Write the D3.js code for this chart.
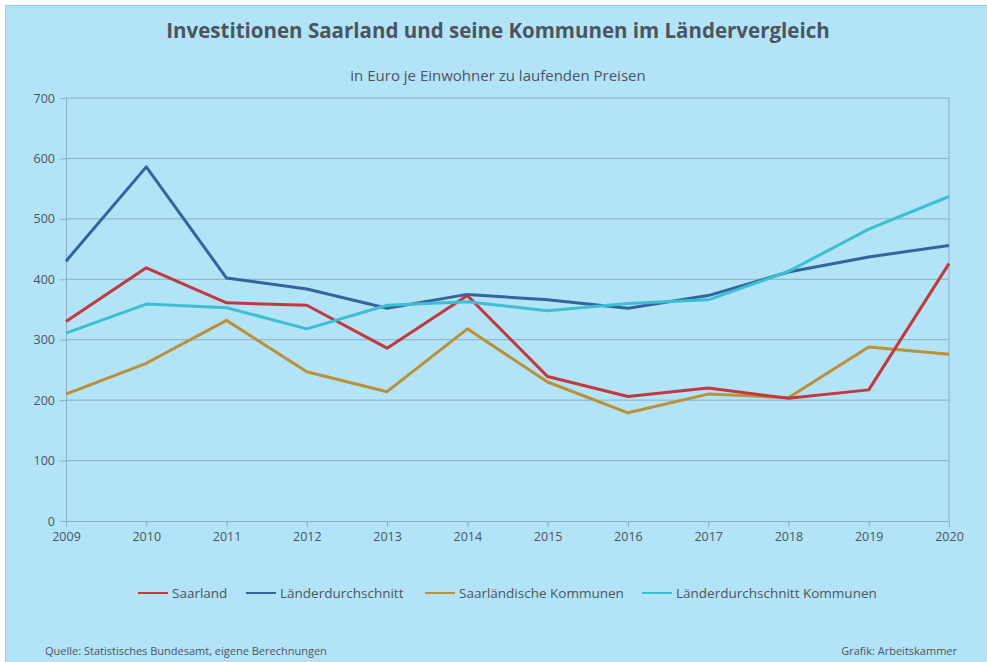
<!DOCTYPE html>
<html>
<head>
<meta charset="utf-8">
<title>Investitionen Saarland</title>
<script src="https://cdn.jsdelivr.net/npm/d3@7"></script>
<style>
  body { margin: 0; background: #fff; }
  text { font-family: "Open Sans", Lato, sans-serif; fill: #4a5560; }
</style>
</head>
<body>
<script>
var years = [2009, 2010, 2011, 2012, 2013, 2014, 2015, 2016, 2017, 2018, 2019, 2020];
var saarland = [330, 419, 361, 357, 286, 373, 239, 206, 220, 203, 217, 426];
var laender = [430, 586, 402, 384, 352, 375, 366, 352, 373, 412, 437, 456];
var saarKommunen = [210, 261, 332, 247, 214, 318, 230, 179, 210, 204, 288, 276];
var laenderKommunen = [311, 359, 353, 318, 357, 363, 348, 360, 366, 413, 483, 537];
var seriesNames = ["Saarland", "Länderdurchschnitt", "Saarländische Kommunen", "Länderdurchschnitt Kommunen"];
var seriesColors = ["#c0393f", "#33649e", "#b8913a", "#3cbfd3"];
var yTicks = [0, 100, 200, 300, 400, 500, 600, 700];

var width = 987, height = 662;
var svg = d3.select("body").append("svg")
    .attr("width", width)
    .attr("height", height);

svg.append("rect")
    .attr("x", 5.5).attr("y", 5.5)
    .attr("width", width).attr("height", height)
    .attr("fill", "#b3e3f7")
    .attr("stroke", "#8fd2f0");

svg.append("text")
    .attr("x", 498).attr("y", 38)
    .attr("text-anchor", "middle")
    .style("font-size", "20.5px")
    .style("font-weight", "bold")
    .text("Investitionen Saarland und seine Kommunen im Ländervergleich");

svg.append("text")
    .attr("x", 498).attr("y", 81)
    .attr("text-anchor", "middle")
    .style("font-size", "15px")
    .text("in Euro je Einwohner zu laufenden Preisen");

var x = d3.scaleLinear().domain([2009, 2020]).range([66, 949]);
var y = d3.scaleLinear().domain([0, 700]).range([521, 98]);

var grid = svg.append("g");
grid.selectAll("line")
    .data(yTicks.slice(1))
    .enter()
    .append("line")
    .attr("x1", 66).attr("x2", 949)
    .attr("y1", function(d) { return y(d); })
    .attr("y2", function(d) { return y(d); })
    .attr("stroke", "#8aaec2")
    .attr("stroke-width", 1);

svg.append("line")
    .attr("x1", 949).attr("x2", 949)
    .attr("y1", 98).attr("y2", 521)
    .attr("stroke", "#8aaec2");

var yAxis = svg.append("g")
    .attr("transform", "translate(66,0)")
    .call(d3.axisLeft(y).tickValues(yTicks).tickSize(6).tickPadding(5).tickSizeOuter(0));

var xAxis = svg.append("g")
    .attr("transform", "translate(0,521)")
    .call(d3.axisBottom(x).tickValues(years).tickFormat(d3.format("d")).tickSize(6).tickPadding(5).tickSizeOuter(0));

[yAxis, xAxis].forEach(function(a) {
    a.selectAll("path, line").attr("stroke", "#8aaec2");
    a.selectAll("text").style("font-size", "12.5px").attr("fill", "#4a5560").style("font-family", "'Open Sans', sans-serif");
});

var allSeries = [saarland, laender, saarKommunen, laenderKommunen];
var line = d3.line()
    .x(function(d, i) { return x(years[i]); })
    .y(function(d) { return y(d); });

var drawOrder = [2, 0, 1, 3];
drawOrder.forEach(function(k) {
    svg.append("path")
        .datum(allSeries[k])
        .attr("fill", "none")
        .attr("stroke", seriesColors[k])
        .attr("stroke-width", 3)
        .attr("stroke-linejoin", "round")
        .attr("d", line);
});

var legendX = [138, 246, 425, 642];
var legend = svg.append("g");
seriesNames.forEach(function(name, i) {
    legend.append("line")
        .attr("x1", legendX[i]).attr("x2", legendX[i] + 30)
        .attr("y1", 593).attr("y2", 593)
        .attr("stroke", seriesColors[i])
        .attr("stroke-width", 2);
    legend.append("text")
        .attr("x", legendX[i] + 34).attr("y", 598)
        .style("font-size", "13.5px")
        .text(name);
});

svg.append("text")
    .attr("x", 45).attr("y", 655)
    .style("font-size", "11px")
    .text("Quelle: Statistisches Bundesamt, eigene Berechnungen");

svg.append("text")
    .attr("x", 957).attr("y", 655)
    .attr("text-anchor", "end")
    .style("font-size", "11px")
    .text("Grafik: Arbeitskammer");
</script>
</body>
</html>
